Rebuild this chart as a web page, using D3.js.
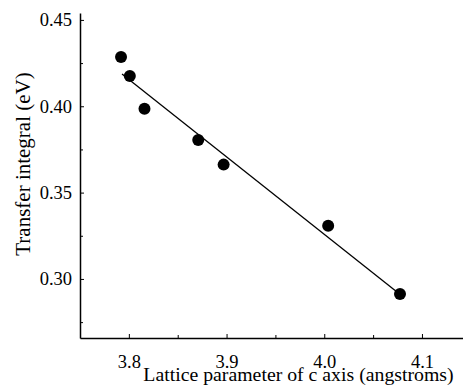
<!DOCTYPE html>
<html>
<head>
<meta charset="utf-8">
<script src="https://cdn.jsdelivr.net/npm/d3@7"></script>
<style>
  body { margin: 0; background: #fff; }
  svg text { font-family: "Liberation Serif", "Times New Roman", serif; fill: #000; }
</style>
</head>
<body>
<div id="chart"></div>
<script>
const latticeC = [3.792, 3.801, 3.816, 3.871, 3.897, 4.004, 4.0775]
const transfer = [0.4285, 0.4175, 0.3986, 0.3805, 0.3662, 0.3308, 0.2913]
const fitX = [3.793, 4.0745]
const fitY = [0.4187, 0.2925]
const xMajor = [3.8, 3.9, 4.0, 4.1]
const xMinor = [3.85, 3.95, 4.05]
const yMajor = [0.30, 0.35, 0.40, 0.45]
const yMinor = [0.275, 0.325, 0.375, 0.425]

const width = 463, height = 385
const margin = { top: 13, right: 0, bottom: 47, left: 80 }

const svg = d3.select('#chart').append('svg')
  .attr('width', width).attr('height', height)

const x = d3.scaleLinear()
  .domain([3.75, 4.142])
  .range([margin.left, width - margin.right])
const y = d3.scaleLinear()
  .domain([0.2658, 0.454])
  .range([height - margin.bottom, margin.top])

const axisY0 = height - margin.bottom

// x axis, ticks pointing inward
svg.append('g')
  .attr('transform', `translate(0,${axisY0})`)
  .call(d3.axisBottom(x).tickValues(xMajor).tickFormat(d3.format('.1f'))
    .tickSizeInner(-4).tickSizeOuter(0).tickPadding(17))
svg.append('g')
  .attr('transform', `translate(0,${axisY0})`)
  .call(d3.axisBottom(x).tickValues(xMinor).tickFormat('')
    .tickSizeInner(-3).tickSizeOuter(0))
  .call(g => g.select('.domain').remove())

// y axis
svg.append('g')
  .attr('transform', `translate(${margin.left},0)`)
  .call(d3.axisLeft(y).tickValues(yMajor).tickFormat(d3.format('.2f'))
    .tickSizeInner(-4).tickSizeOuter(0).tickPadding(8))
svg.append('g')
  .attr('transform', `translate(${margin.left},0)`)
  .call(d3.axisLeft(y).tickValues(yMinor).tickFormat('')
    .tickSizeInner(-3).tickSizeOuter(0))
  .call(g => g.select('.domain').remove())

svg.selectAll('.domain').attr('stroke-width', 1.5)
svg.selectAll('.tick line').attr('stroke-width', 1)
svg.selectAll('.tick text')
  .attr('font-size', 18.5)
  .attr('font-family', '"Liberation Serif", serif')

// fit line
const fit = fitX.map((v, i) => ({ x: v, y: fitY[i] }))
svg.append('path')
  .datum(fit)
  .attr('fill', 'none')
  .attr('stroke', '#000')
  .attr('stroke-width', 1.3)
  .attr('d', d3.line().x(d => x(d.x)).y(d => y(d.y)))

// points
svg.append('g').selectAll('circle')
  .data(latticeC.map((v, i) => ({ x: v, y: transfer[i] })))
  .join('circle')
  .attr('cx', d => x(d.x))
  .attr('cy', d => y(d.y))
  .attr('r', 6)
  .attr('fill', '#000')

// axis titles
svg.append('text')
  .attr('x', 298.5).attr('y', 381)
  .attr('text-anchor', 'middle')
  .attr('font-size', 19.8)
  .text('Lattice parameter of c axis (angstroms)')

svg.append('text')
  .attr('transform', 'translate(30,164) rotate(-90)')
  .attr('text-anchor', 'middle')
  .attr('font-size', 21)
  .text('Transfer integral (eV)')
</script>
</body>
</html>
